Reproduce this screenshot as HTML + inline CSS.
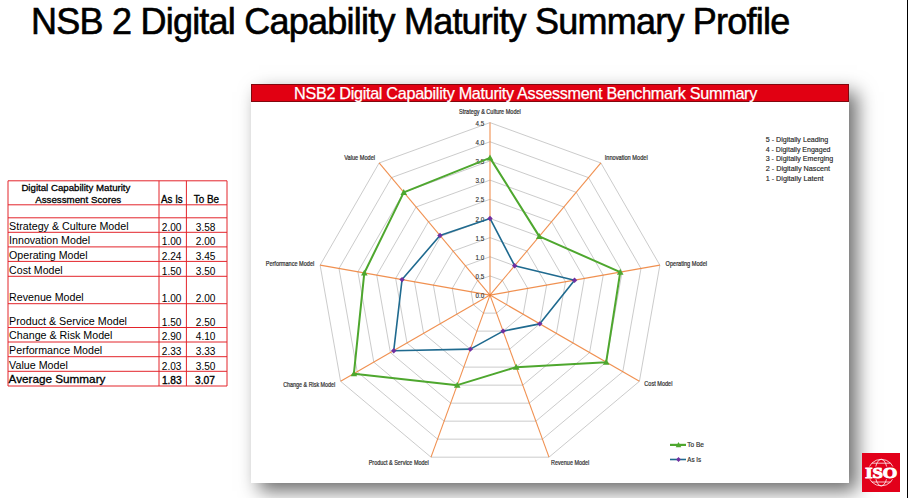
<!DOCTYPE html>
<html><head><meta charset="utf-8">
<style>
html,body{margin:0;padding:0;}
body{width:908px;height:498px;position:relative;overflow:hidden;background:#fff;font-family:"Liberation Sans",sans-serif;}
#title{position:absolute;left:31px;top:1px;font-size:36px;line-height:42px;color:#000;white-space:nowrap;letter-spacing:-0.77px;-webkit-text-stroke:0.6px #000;}
#rline{position:absolute;left:907px;top:0;width:1px;height:498px;background:#000;}
#box{position:absolute;left:251px;top:84px;width:598px;height:399px;background:#fff;box-shadow:8px 8px 18px rgba(0,0,0,0.58);}
#bar{position:absolute;left:251px;top:84px;width:598px;height:18px;background:#E10012;box-shadow:inset 0 0 0 1px #80080E;}
#bartxt{position:absolute;left:294px;top:84px;font-size:16.2px;line-height:19px;color:#fff;white-space:nowrap;letter-spacing:-0.3px;-webkit-text-stroke:0.25px #fff;}
svg{position:absolute;left:0;top:0;}
#iso{position:absolute;left:862px;top:453px;width:38px;height:39px;background:#E2001A;}
</style></head><body>
<div id="title">NSB 2 Digital Capability Maturity Summary Profile</div>
<div id="rline"></div>
<div id="box"></div>
<div id="bar"></div>
<div id="bartxt">NSB2 Digital Capability Maturity Assessment Benchmark Summary</div>
<svg width="908" height="498" viewBox="0 0 908 498" font-family="Liberation Sans, sans-serif">
<polygon points="490.00,275.94 502.32,280.42 508.87,291.77 506.60,304.68 496.55,313.11 483.45,313.11 473.40,304.68 471.13,291.77 477.68,280.42" fill="none" stroke="#c2c2c2" stroke-width="0.85"/>
<polygon points="490.00,256.77 514.64,265.74 527.75,288.44 523.19,314.26 503.11,331.12 476.89,331.12 456.81,314.27 452.25,288.44 465.36,265.74" fill="none" stroke="#c2c2c2" stroke-width="0.85"/>
<polygon points="490.00,237.61 526.96,251.06 546.62,285.12 539.79,323.85 509.66,349.13 470.34,349.13 440.21,323.85 433.38,285.12 453.04,251.06" fill="none" stroke="#c2c2c2" stroke-width="0.85"/>
<polygon points="490.00,218.44 539.28,236.38 565.50,281.79 556.39,333.43 516.22,367.14 463.78,367.14 423.61,333.43 414.50,281.79 440.72,236.38" fill="none" stroke="#c2c2c2" stroke-width="0.85"/>
<polygon points="490.00,199.28 551.60,221.69 584.37,278.46 572.99,343.01 522.77,385.15 457.23,385.15 407.01,343.01 395.63,278.46 428.40,221.69" fill="none" stroke="#c2c2c2" stroke-width="0.85"/>
<polygon points="490.00,180.11 563.91,207.01 603.24,275.13 589.58,352.59 529.33,403.16 450.67,403.16 390.42,352.60 376.76,275.13 416.09,207.01" fill="none" stroke="#c2c2c2" stroke-width="0.85"/>
<polygon points="490.00,160.95 576.23,192.33 622.12,271.80 606.18,362.18 535.88,421.16 444.12,421.16 373.82,362.18 357.88,271.80 403.77,192.33" fill="none" stroke="#c2c2c2" stroke-width="0.85"/>
<polygon points="490.00,141.78 588.55,177.65 640.99,268.48 622.78,371.76 542.44,439.17 437.56,439.17 357.22,371.76 339.01,268.48 391.45,177.65" fill="none" stroke="#c2c2c2" stroke-width="0.85"/>
<polygon points="490.00,122.62 600.87,162.97 659.86,265.15 639.38,381.34 548.99,457.18 431.01,457.18 340.62,381.34 320.14,265.15 379.13,162.97" fill="none" stroke="#c2c2c2" stroke-width="0.85"/>
<line x1="490.0" y1="295.1" x2="490.00" y2="122.62" stroke="#ED7D31" stroke-width="1.1" stroke-opacity="0.85"/>
<line x1="490.0" y1="295.1" x2="600.87" y2="162.97" stroke="#ED7D31" stroke-width="1.1" stroke-opacity="0.85"/>
<line x1="490.0" y1="295.1" x2="659.86" y2="265.15" stroke="#ED7D31" stroke-width="1.1" stroke-opacity="0.85"/>
<line x1="490.0" y1="295.1" x2="639.38" y2="381.34" stroke="#ED7D31" stroke-width="1.1" stroke-opacity="0.85"/>
<line x1="490.0" y1="295.1" x2="548.99" y2="457.18" stroke="#ED7D31" stroke-width="1.1" stroke-opacity="0.85"/>
<line x1="490.0" y1="295.1" x2="431.01" y2="457.18" stroke="#ED7D31" stroke-width="1.1" stroke-opacity="0.85"/>
<line x1="490.0" y1="295.1" x2="340.62" y2="381.34" stroke="#ED7D31" stroke-width="1.1" stroke-opacity="0.85"/>
<line x1="490.0" y1="295.1" x2="320.14" y2="265.15" stroke="#ED7D31" stroke-width="1.1" stroke-opacity="0.85"/>
<line x1="490.0" y1="295.1" x2="379.13" y2="162.97" stroke="#ED7D31" stroke-width="1.1" stroke-opacity="0.85"/>
<text x="475.6" y="298.20" font-size="6.6" textLength="8.7" lengthAdjust="spacingAndGlyphs" fill="#333" stroke="#333" stroke-width="0.15">0.0</text>
<text x="475.6" y="279.04" font-size="6.6" textLength="8.7" lengthAdjust="spacingAndGlyphs" fill="#333" stroke="#333" stroke-width="0.15">0.5</text>
<text x="475.6" y="259.87" font-size="6.6" textLength="8.7" lengthAdjust="spacingAndGlyphs" fill="#333" stroke="#333" stroke-width="0.15">1.0</text>
<text x="475.6" y="240.71" font-size="6.6" textLength="8.7" lengthAdjust="spacingAndGlyphs" fill="#333" stroke="#333" stroke-width="0.15">1.5</text>
<text x="475.6" y="221.54" font-size="6.6" textLength="8.7" lengthAdjust="spacingAndGlyphs" fill="#333" stroke="#333" stroke-width="0.15">2.0</text>
<text x="475.6" y="202.38" font-size="6.6" textLength="8.7" lengthAdjust="spacingAndGlyphs" fill="#333" stroke="#333" stroke-width="0.15">2.5</text>
<text x="475.6" y="183.21" font-size="6.6" textLength="8.7" lengthAdjust="spacingAndGlyphs" fill="#333" stroke="#333" stroke-width="0.15">3.0</text>
<text x="475.6" y="164.05" font-size="6.6" textLength="8.7" lengthAdjust="spacingAndGlyphs" fill="#333" stroke="#333" stroke-width="0.15">3.5</text>
<text x="475.6" y="144.88" font-size="6.6" textLength="8.7" lengthAdjust="spacingAndGlyphs" fill="#333" stroke="#333" stroke-width="0.15">4.0</text>
<text x="475.6" y="125.72" font-size="6.6" textLength="8.7" lengthAdjust="spacingAndGlyphs" fill="#333" stroke="#333" stroke-width="0.15">4.5</text>
<polygon points="490.00,218.44 514.64,265.74 574.55,280.19 539.79,323.85 503.11,331.12 470.34,349.13 393.74,350.68 402.05,279.59 439.98,235.49" fill="none" stroke="#1F6A8F" stroke-width="1.6" stroke-linejoin="round"/>
<polygon points="490.00,215.74 492.70,218.44 490.00,221.14 487.30,218.44" fill="#7030A0"/>
<polygon points="514.64,263.04 517.34,265.74 514.64,268.44 511.94,265.74" fill="#7030A0"/>
<polygon points="574.55,277.49 577.25,280.19 574.55,282.89 571.85,280.19" fill="#7030A0"/>
<polygon points="539.79,321.15 542.49,323.85 539.79,326.55 537.09,323.85" fill="#7030A0"/>
<polygon points="503.11,328.42 505.81,331.12 503.11,333.82 500.41,331.12" fill="#7030A0"/>
<polygon points="470.34,346.43 473.04,349.13 470.34,351.83 467.64,349.13" fill="#7030A0"/>
<polygon points="393.74,347.98 396.44,350.68 393.74,353.38 391.04,350.68" fill="#7030A0"/>
<polygon points="402.05,276.89 404.75,279.59 402.05,282.29 399.35,279.59" fill="#7030A0"/>
<polygon points="439.98,232.79 442.68,235.49 439.98,238.19 437.28,235.49" fill="#7030A0"/>
<polygon points="490.00,157.88 539.28,236.38 620.23,272.14 606.18,362.18 516.22,367.14 457.23,385.15 353.90,373.68 364.30,272.94 403.77,192.33" fill="none" stroke="#4EA72E" stroke-width="2.0" stroke-linejoin="round"/>
<polygon points="490.00,154.58 493.30,160.52 486.70,160.52" fill="#4EA72E"/>
<polygon points="539.28,233.08 542.58,239.02 535.98,239.02" fill="#4EA72E"/>
<polygon points="620.23,268.84 623.53,274.78 616.93,274.78" fill="#4EA72E"/>
<polygon points="606.18,358.88 609.48,364.82 602.88,364.82" fill="#4EA72E"/>
<polygon points="516.22,363.84 519.52,369.78 512.92,369.78" fill="#4EA72E"/>
<polygon points="457.23,381.85 460.53,387.79 453.93,387.79" fill="#4EA72E"/>
<polygon points="353.90,370.38 357.20,376.32 350.60,376.32" fill="#4EA72E"/>
<polygon points="364.30,269.64 367.60,275.58 361.00,275.58" fill="#4EA72E"/>
<polygon points="403.77,189.03 407.07,194.97 400.47,194.97" fill="#4EA72E"/>
<text x="459.0" y="113.90" font-size="6.5" textLength="61.8" lengthAdjust="spacingAndGlyphs" fill="#333" stroke="#333" stroke-width="0.22">Strategy &amp; Culture Model</text>
<text x="604.7" y="159.90" font-size="6.5" textLength="43.0" lengthAdjust="spacingAndGlyphs" fill="#333" stroke="#333" stroke-width="0.22">Innovation Model</text>
<text x="665.6" y="266.00" font-size="6.5" textLength="41.5" lengthAdjust="spacingAndGlyphs" fill="#333" stroke="#333" stroke-width="0.22">Operating Model</text>
<text x="644.3000000000001" y="386.10" font-size="6.5" textLength="28.1" lengthAdjust="spacingAndGlyphs" fill="#333" stroke="#333" stroke-width="0.22">Cost Model</text>
<text x="551.1" y="464.80" font-size="6.5" textLength="38.2" lengthAdjust="spacingAndGlyphs" fill="#333" stroke="#333" stroke-width="0.22">Revenue Model</text>
<text x="368.7" y="464.80" font-size="6.5" textLength="60.1" lengthAdjust="spacingAndGlyphs" fill="#333" stroke="#333" stroke-width="0.22">Product &amp; Service Model</text>
<text x="283.2" y="386.50" font-size="6.5" textLength="52.1" lengthAdjust="spacingAndGlyphs" fill="#333" stroke="#333" stroke-width="0.22">Change &amp; Risk Model</text>
<text x="265.7" y="265.80" font-size="6.5" textLength="48.6" lengthAdjust="spacingAndGlyphs" fill="#333" stroke="#333" stroke-width="0.22">Performance Model</text>
<text x="344.2" y="159.90" font-size="6.5" textLength="30.9" lengthAdjust="spacingAndGlyphs" fill="#333" stroke="#333" stroke-width="0.22">Value Model</text>
<text x="765.7" y="141.60" font-size="7.5" fill="#262626" stroke="#262626" stroke-width="0.15" textLength="62.6" lengthAdjust="spacingAndGlyphs">5 - Digitally Leading</text>
<text x="765.7" y="151.53" font-size="7.5" fill="#262626" stroke="#262626" stroke-width="0.15" textLength="64.8" lengthAdjust="spacingAndGlyphs">4 - Digitally Engaged</text>
<text x="765.7" y="161.46" font-size="7.5" fill="#262626" stroke="#262626" stroke-width="0.15" textLength="67.5" lengthAdjust="spacingAndGlyphs">3 - Digitally Emerging</text>
<text x="765.7" y="171.39" font-size="7.5" fill="#262626" stroke="#262626" stroke-width="0.15" textLength="64.4" lengthAdjust="spacingAndGlyphs">2 - Digitally Nascent</text>
<text x="765.7" y="181.32" font-size="7.5" fill="#262626" stroke="#262626" stroke-width="0.15" textLength="57.8" lengthAdjust="spacingAndGlyphs">1 - Digitally Latent</text>
<line x1="670" y1="444.9" x2="686" y2="444.9" stroke="#4EA72E" stroke-width="2.2"/>
<polygon points="678.5,441.9 681.3,447.2 675.7,447.2" fill="#4EA72E"/>
<text x="687.3" y="447.3" font-size="6.6" textLength="16.7" lengthAdjust="spacingAndGlyphs" fill="#333" stroke="#333" stroke-width="0.2">To Be</text>
<line x1="670" y1="459.5" x2="686" y2="459.5" stroke="#1F6A8F" stroke-width="1.6"/>
<polygon points="678.5,457.1 680.9,459.5 678.5,461.9 676.1,459.5" fill="#7030A0"/>
<text x="687.3" y="461.9" font-size="6.6" textLength="13.8" lengthAdjust="spacingAndGlyphs" fill="#333" stroke="#333" stroke-width="0.2">As Is</text>
<line x1="8" y1="180.8" x2="227" y2="180.8" stroke="#E3242B" stroke-width="1"/>
<line x1="8" y1="204.8" x2="227" y2="204.8" stroke="#E3242B" stroke-width="1"/>
<line x1="8" y1="217.8" x2="227" y2="217.8" stroke="#E3242B" stroke-width="1"/>
<line x1="8" y1="232.3" x2="227" y2="232.3" stroke="#E3242B" stroke-width="1"/>
<line x1="8" y1="246.9" x2="227" y2="246.9" stroke="#E3242B" stroke-width="1"/>
<line x1="8" y1="261.4" x2="227" y2="261.4" stroke="#E3242B" stroke-width="1"/>
<line x1="8" y1="276.3" x2="227" y2="276.3" stroke="#E3242B" stroke-width="1"/>
<line x1="8" y1="303.7" x2="227" y2="303.7" stroke="#E3242B" stroke-width="1"/>
<line x1="8" y1="327.5" x2="227" y2="327.5" stroke="#E3242B" stroke-width="1"/>
<line x1="8" y1="342" x2="227" y2="342" stroke="#E3242B" stroke-width="1"/>
<line x1="8" y1="356.7" x2="227" y2="356.7" stroke="#E3242B" stroke-width="1"/>
<line x1="8" y1="371.3" x2="227" y2="371.3" stroke="#E3242B" stroke-width="1"/>
<line x1="8" y1="386" x2="227" y2="386" stroke="#E3242B" stroke-width="1"/>
<line x1="8" y1="180.8" x2="8" y2="386" stroke="#E3242B" stroke-width="1"/>
<line x1="159" y1="180.8" x2="159" y2="386" stroke="#E3242B" stroke-width="1"/>
<line x1="186.4" y1="180.8" x2="186.4" y2="386" stroke="#E3242B" stroke-width="1"/>
<line x1="227" y1="180.8" x2="227" y2="386" stroke="#E3242B" stroke-width="1"/>
<text x="21.4" y="190.7" font-size="9.8" stroke="#000" stroke-width="0.3" textLength="109" lengthAdjust="spacingAndGlyphs">Digital Capability Maturity</text>
<text x="35.2" y="202.8" font-size="9.8" stroke="#000" stroke-width="0.3" textLength="86" lengthAdjust="spacingAndGlyphs">Assessment Scores</text>
<text x="161.1" y="202.8" font-size="10" stroke="#000" stroke-width="0.3" textLength="21.6" lengthAdjust="spacingAndGlyphs">As Is</text>
<text x="193.8" y="202.8" font-size="10" stroke="#000" stroke-width="0.3" textLength="25.3" lengthAdjust="spacingAndGlyphs">To Be</text>
<text x="9.1" y="229.60" font-size="10" textLength="119.5" lengthAdjust="spacingAndGlyphs">Strategy &amp; Culture Model</text>
<text x="171.6" y="230.70" text-anchor="middle" font-size="10.1">2.00</text>
<text x="205.6" y="230.70" text-anchor="middle" font-size="10.1">3.58</text>
<text x="9.1" y="244.20" font-size="10" textLength="81.0" lengthAdjust="spacingAndGlyphs">Innovation Model</text>
<text x="171.6" y="245.30" text-anchor="middle" font-size="10.1">1.00</text>
<text x="205.6" y="245.30" text-anchor="middle" font-size="10.1">2.00</text>
<text x="9.1" y="258.70" font-size="10" textLength="78.5" lengthAdjust="spacingAndGlyphs">Operating Model</text>
<text x="171.6" y="259.80" text-anchor="middle" font-size="10.1">2.24</text>
<text x="205.6" y="259.80" text-anchor="middle" font-size="10.1">3.45</text>
<text x="9.1" y="273.60" font-size="10" textLength="53.6" lengthAdjust="spacingAndGlyphs">Cost Model</text>
<text x="171.6" y="274.70" text-anchor="middle" font-size="10.1">1.50</text>
<text x="205.6" y="274.70" text-anchor="middle" font-size="10.1">3.50</text>
<text x="9.1" y="301.00" font-size="10" textLength="74.6" lengthAdjust="spacingAndGlyphs">Revenue Model</text>
<text x="171.6" y="302.10" text-anchor="middle" font-size="10.1">1.00</text>
<text x="205.6" y="302.10" text-anchor="middle" font-size="10.1">2.00</text>
<text x="9.1" y="324.80" font-size="10" textLength="117.9" lengthAdjust="spacingAndGlyphs">Product &amp; Service Model</text>
<text x="171.6" y="325.90" text-anchor="middle" font-size="10.1">1.50</text>
<text x="205.6" y="325.90" text-anchor="middle" font-size="10.1">2.50</text>
<text x="9.1" y="339.30" font-size="10" textLength="103.3" lengthAdjust="spacingAndGlyphs">Change &amp; Risk Model</text>
<text x="171.6" y="340.40" text-anchor="middle" font-size="10.1">2.90</text>
<text x="205.6" y="340.40" text-anchor="middle" font-size="10.1">4.10</text>
<text x="9.1" y="354.00" font-size="10" textLength="93.1" lengthAdjust="spacingAndGlyphs">Performance Model</text>
<text x="171.6" y="355.10" text-anchor="middle" font-size="10.1">2.33</text>
<text x="205.6" y="355.10" text-anchor="middle" font-size="10.1">3.33</text>
<text x="9.1" y="368.60" font-size="10" textLength="58.7" lengthAdjust="spacingAndGlyphs">Value Model</text>
<text x="171.6" y="369.70" text-anchor="middle" font-size="10.1">2.03</text>
<text x="205.6" y="369.70" text-anchor="middle" font-size="10.1">3.50</text>
<text x="8.6" y="382.9" font-size="11.3" stroke="#000" stroke-width="0.3" textLength="96.8" lengthAdjust="spacingAndGlyphs">Average Summary</text>
<text x="171.8" y="383.8" text-anchor="middle" font-size="10.2" stroke="#000" stroke-width="0.35">1.83</text>
<text x="205" y="383.8" text-anchor="middle" font-size="10.2" stroke="#000" stroke-width="0.35">3.07</text>
</svg>
<div id="iso">
<svg width="38" height="39" viewBox="0 0 38 39">
<defs><clipPath id="gc"><rect x="0" y="0" width="38" height="13.4"/><rect x="0" y="26.2" width="38" height="13"/></clipPath></defs>
<g fill="none" stroke="#fff" stroke-width="0.75" clip-path="url(#gc)">
<circle cx="19.2" cy="19.6" r="13.3"/>
<ellipse cx="19.2" cy="19.6" rx="6.2" ry="13.3"/>
<line x1="9.9" y1="10.2" x2="28.5" y2="10.2"/>
<line x1="9.9" y1="29" x2="28.5" y2="29"/>
</g>
<text x="3.3" y="24.9" font-family="Liberation Serif, serif" font-weight="bold" font-size="15.6" fill="#fff" stroke="#fff" stroke-width="1.0" textLength="32.0" lengthAdjust="spacingAndGlyphs">ISO</text>
</svg>
</div>
</body></html>
